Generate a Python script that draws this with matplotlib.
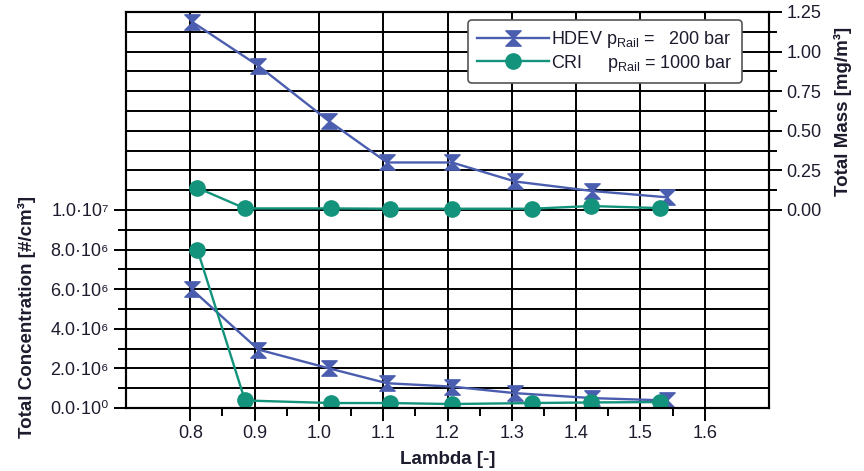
import numpy as np
import matplotlib
matplotlib.use("Agg")
import matplotlib.pyplot as plt
from matplotlib.path import Path

plt.rcParams['font.family'] = ['Liberation Sans', 'DejaVu Sans']
plt.rcParams['mathtext.fontset'] = 'custom'
plt.rcParams['mathtext.rm'] = 'Liberation Sans'
plt.rcParams['mathtext.it'] = 'Liberation Sans'

# data
hdev_lambda = [0.802, 0.906, 1.016, 1.106, 1.207, 1.305, 1.425, 1.542]
hdev_mass = [1.19, 0.91, 0.56, 0.30, 0.30, 0.18, 0.12, 0.08]
hdev_conc = [6.0e6, 2.95e6, 2.0e6, 1.25e6, 1.08e6, 0.75e6, 0.5e6, 0.38e6]

cri_lambda = [0.811, 0.885, 1.019, 1.111, 1.207, 1.331, 1.423, 1.530]
cri_mass = [0.14, 0.01, 0.01, 0.008, 0.008, 0.008, 0.025, 0.012]
cri_conc = [8.0e6, 0.38e6, 0.25e6, 0.25e6, 0.2e6, 0.25e6, 0.28e6, 0.3e6]

x_ticks = [0.8, 0.9, 1.0, 1.1, 1.2, 1.3, 1.4, 1.5, 1.6]
conc_ticks = [0, 2e6, 4e6, 6e6, 8e6, 1e7]
conc_ticklabels = ['0.0·10⁰', '2.0·10⁶', '4.0·10⁶', '6.0·10⁶', '8.0·10⁶', '1.0·10⁷']
mass_ticks = [0.0, 0.25, 0.5, 0.75, 1.0, 1.25]

blue = '#4a5daf'
green = '#13937b'
txt = '#1c1c2e'

# hourglass marker
hourglass = Path([(-1, 1), (1, 1), (0, 0), (-1, 1), (-1, -1), (1, -1), (0, 0), (-1, -1)],
                 [Path.MOVETO, Path.LINETO, Path.LINETO, Path.CLOSEPOLY,
                  Path.MOVETO, Path.LINETO, Path.LINETO, Path.CLOSEPOLY])

fig = plt.figure(figsize=(8.64, 4.71), dpi=100)
ax = fig.add_axes([126/864, 1 - 408/471, (769-126)/864, (408-12)/471])
ax2 = ax.twinx()

# grid
for y in np.arange(1e6, 2e7, 1e6):
    ax.axhline(y, color='black', lw=1.4, zorder=1)
for x in x_ticks:
    ax.axvline(x, color='black', lw=1.4, zorder=1)

ax.plot(hdev_lambda, hdev_conc, color=blue, lw=1.7, marker=hourglass, ms=11, zorder=3)
ax.plot(cri_lambda, cri_conc, color=green, lw=1.7, marker='o', ms=11, zorder=3)
l1, = ax2.plot(hdev_lambda, hdev_mass, color=blue, lw=1.7, marker=hourglass, ms=11)
l2, = ax2.plot(cri_lambda, cri_mass, color=green, lw=1.7, marker='o', ms=11)

ax.set_xlim(0.7, 1.7)
ax.set_ylim(0, 2e7)
ax2.set_ylim(-1.25, 1.25)

ax.set_xticks(x_ticks)
ax.set_xticks(np.arange(0.85, 1.6, 0.1), minor=True)
ax.set_xticklabels(['%.1f' % v for v in x_ticks])
ax.set_yticks(conc_ticks)
ax.set_yticks(np.arange(1e6, 1e7, 2e6), minor=True)
ax.set_yticklabels(conc_ticklabels)
ax2.set_yticks(mass_ticks)
ax2.set_yticks(np.arange(0.125, 1.25, 0.25), minor=True)
ax2.set_yticklabels(['%.2f' % v for v in mass_ticks])

for a in (ax, ax2):
    a.tick_params(which='major', length=9, width=1.4, labelsize=13, colors='black', labelcolor=txt)
    a.tick_params(which='minor', length=6, width=1.4, colors='black')
    for s in a.spines.values():
        s.set_linewidth(1.5)
        s.set_color('black')

ax.set_xlabel('Lambda [-]', fontsize=13.5, fontweight='bold', color=txt, labelpad=6)
ax.text(-0.154, 0.23, 'Total Concentration [#/cm³]', transform=ax.transAxes, rotation=90,
        ha='center', va='center', fontsize=13.5, fontweight='bold', color=txt)
ax2.text(1.115, 0.75, 'Total Mass [mg/m³]', transform=ax2.transAxes, rotation=90,
         ha='center', va='center', fontsize=13.5, fontweight='bold', color=txt)

leg = ax2.legend([l1, l2],
                 [r'HDEV $\mathrm{p}_{\mathrm{Rail}}$ =   200 bar',
                  r'CRI     $\mathrm{p}_{\mathrm{Rail}}$ = 1000 bar'],
                 loc='upper right', bbox_to_anchor=(0.958, 0.98), borderaxespad=0,
                 fontsize=13, handlelength=4, handletextpad=0.1, borderpad=0.5,
                 labelspacing=0.15, fancybox=True, framealpha=1, edgecolor='#555555',
                 labelcolor=txt)
leg.get_frame().set_linewidth(1.2)

fig.savefig('out.png', dpi=100)
